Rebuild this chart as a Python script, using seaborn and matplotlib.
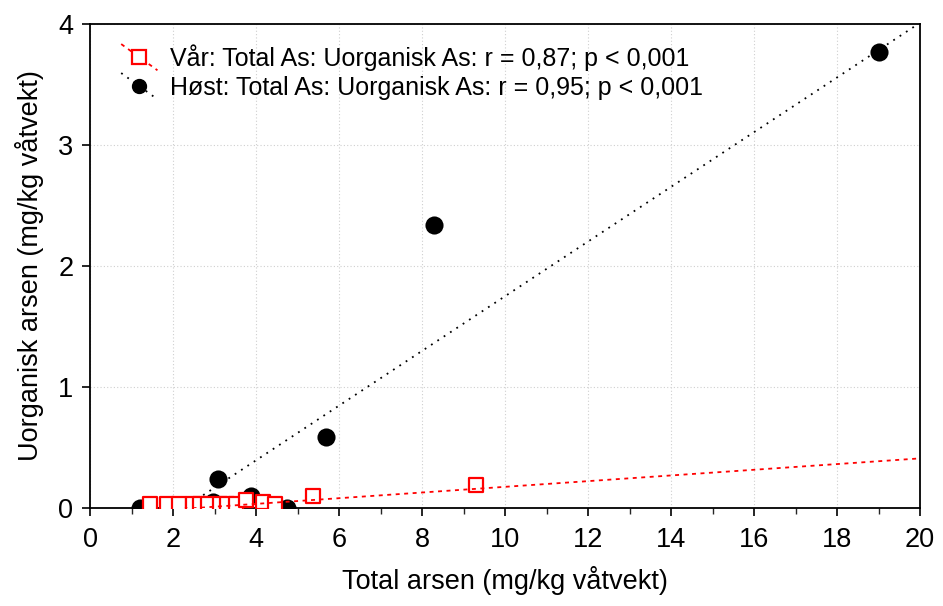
import numpy as np
import pandas as pd
import matplotlib
matplotlib.use("Agg")
import matplotlib.pyplot as plt
import seaborn as sns
from matplotlib.lines import Line2D
from matplotlib.legend_handler import HandlerBase

# ---- data ----
var_x = [1.45, 1.86, 2.15, 2.48, 2.65, 2.85, 3.13, 3.30, 3.53, 3.76, 4.17, 4.46, 5.37, 9.30]
var_y = [0.03, 0.03, 0.03, 0.03, 0.035, 0.03, 0.03, 0.03, 0.035, 0.065, 0.05, 0.03, 0.10, 0.19]
host_x = [1.20, 2.97, 3.08, 3.47, 3.88, 4.74, 5.69, 8.30, 19.00]
host_y = [0.00, 0.05, 0.24, 0.02, 0.10, 0.00, 0.59, 2.34, 3.77]
# regression lines (slope, intercept)
var_fit = [0.0235, -0.06]
host_fit = [0.226, -0.51]
labels = ["Vår: Total As: Uorganisk As: r = 0,87; p < 0,001",
          "Høst: Total As: Uorganisk As: r = 0,95; p < 0,001"]
x_ticks = [0, 2, 4, 6, 8, 10, 12, 14, 16, 18, 20]
y_ticks = [0, 1, 2, 3, 4]

sns.set_theme(style="white")
plt.rcParams['font.family'] = ['Liberation Sans', 'DejaVu Sans']
plt.rcParams['text.color'] = 'black'
plt.rcParams['axes.labelcolor'] = 'black'

fig = plt.figure(figsize=(9.43, 6.06), dpi=100)
ax = fig.add_axes([90/943, 1-508/606, (920-90)/943, (508-24)/606])

RED_LS = (0, (2.2, 2.5))
BLK_LS = (0, (1, 3.2))

# fit lines
vx = np.array([min(var_x), 20.5])
hx = np.array([min(host_x), 20.5])
sns.lineplot(x=hx, y=host_fit[0]*hx + host_fit[1], ax=ax, color="black",
             linestyle=BLK_LS, lw=1.3, zorder=2)

sns.scatterplot(x=host_x, y=host_y, ax=ax, color="black", marker="o", s=170,
                edgecolor="black", linewidth=0, zorder=3)
sns.scatterplot(x=var_x, y=var_y, ax=ax, marker="s", s=115, facecolor="white",
                edgecolor="red", linewidth=1.6, zorder=4)
sns.lineplot(x=vx, y=var_fit[0]*vx + var_fit[1], ax=ax, color="red",
             linestyle=RED_LS, lw=1.3, zorder=5)

ax.set_xlim(0, 20)
ax.set_ylim(0, 4)
ax.set_xticks(x_ticks)
ax.set_xticks(np.arange(0, 21, 1), minor=True)
ax.set_yticks(y_ticks)
ax.tick_params(axis="both", which="major", direction="out", length=6, width=1.2,
               labelsize=19.5, color="black", labelcolor="black", bottom=True, left=True)
ax.tick_params(axis="x", which="minor", direction="out", length=4, width=1.0, bottom=True)
ax.tick_params(axis="x", which="major", pad=8)
ax.tick_params(axis="y", which="major", pad=6)
ax.grid(True, which="major", color="#cfcfcf", linestyle=(0, (1, 2)), lw=0.8)
for s in ax.spines.values():
    s.set_color("black")
    s.set_linewidth(1.3)

ax.set_xlabel("Total arsen (mg/kg våtvekt)", fontsize=19.5, color="black", labelpad=9)
ax.set_ylabel("Uorganisk arsen (mg/kg våtvekt)", fontsize=19.5, color="black", labelpad=10)

LEG_STYLE = {"red": RED_LS, "black": BLK_LS}


class DiagHandler(HandlerBase):
    def create_artists(self, legend, orig_handle, xdescent, ydescent, width, height, fontsize, trans):
        x0, y0 = -xdescent, -ydescent
        col = orig_handle.get_color()
        line = Line2D([x0, x0 + width], [y0 + height * 1.25, y0 - height * 0.25],
                      color=col, linestyle=LEG_STYLE[col], lw=orig_handle.get_linewidth())
        mk = Line2D([x0 + width / 2], [y0 + height / 2], marker=orig_handle.get_marker(),
                    markersize=orig_handle.get_markersize(),
                    markerfacecolor=orig_handle.get_markerfacecolor(),
                    markeredgecolor=orig_handle.get_markeredgecolor(),
                    markeredgewidth=orig_handle.get_markeredgewidth(), linestyle="none")
        line.set_transform(trans)
        mk.set_transform(trans)
        return [line, mk]


h1 = Line2D([], [], color="red", linestyle=RED_LS, lw=1.3, marker="s",
            markersize=10, markerfacecolor="white", markeredgecolor="red", markeredgewidth=1.6)
h2 = Line2D([], [], color="black", linestyle=BLK_LS, lw=1.3, marker="o",
            markersize=10, markerfacecolor="black", markeredgecolor="black")
leg = ax.legend([h1, h2], labels, loc="upper left", bbox_to_anchor=(0.0135, 0.9995),
                frameon=False, fontsize=18, handlelength=1.45, handletextpad=0.5,
                labelspacing=0.2, borderpad=0.3, handler_map={Line2D: DiagHandler()})
for t in leg.get_texts():
    t.set_color("black")

fig.savefig("out.png", dpi=100)
